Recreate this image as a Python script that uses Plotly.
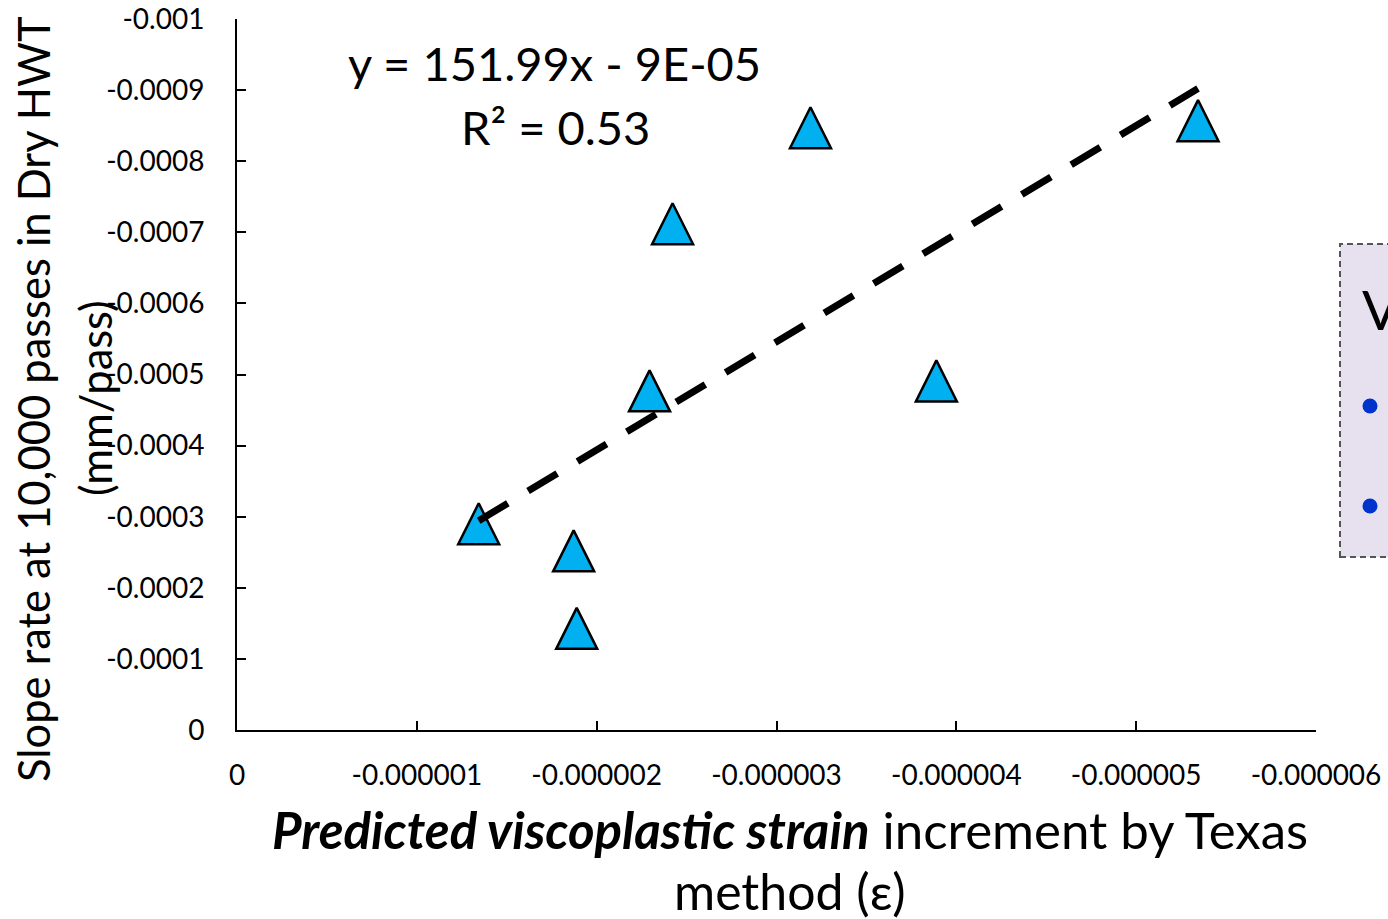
import plotly.graph_objects as go

# ---- data ----
strain_x = [-1.344e-6, -1.872e-6, -1.889e-6, -2.294e-6, -2.422e-6, -3.189e-6, -3.889e-6, -5.344e-6]
slope_y = [-0.000290, -0.000252, -0.000143, -0.000477, -0.000712, -0.000847, -0.000491, -0.000857]

trend_slope = 151.99
trend_intercept = -9e-05

x_tick_vals = [0, -1e-6, -2e-6, -3e-6, -4e-6, -5e-6, -6e-6]
x_tick_labels = ["0", "-0.000001", "-0.000002", "-0.000003", "-0.000004", "-0.000005", "-0.000006"]
y_tick_vals = [0, -0.0001, -0.0002, -0.0003, -0.0004, -0.0005, -0.0006, -0.0007, -0.0008, -0.0009, -0.001]
y_tick_labels = ["0", "-0.0001", "-0.0002", "-0.0003", "-0.0004", "-0.0005", "-0.0006",
                 "-0.0007", "-0.0008", "-0.0009", "-0.001"]

FONT = "Lato"
MARKER_SIZE = 41

trend_x = [max(strain_x), min(strain_x)]
trend_y = [trend_slope * v + trend_intercept for v in trend_x]

fig = go.Figure()
fig.add_trace(go.Scatter(
    x=strain_x, y=slope_y, mode="markers",
    marker=dict(symbol="arrow-down", angle=180, standoff=MARKER_SIZE / 2,
                size=MARKER_SIZE, color="#00B0F0",
                line=dict(color="black", width=2.5)),
    showlegend=False, hoverinfo="x+y"))
fig.add_trace(go.Scatter(
    x=trend_x, y=trend_y, mode="lines",
    line=dict(color="black", width=7, dash="34px,23.6px"),
    showlegend=False, hoverinfo="skip"))

axis_common = dict(showgrid=False, zeroline=False, showline=True, linecolor="black",
                   linewidth=2, ticks="inside", ticklen=9, tickwidth=2, tickcolor="black",
                   automargin=False,
                   tickfont=dict(family=FONT, size=28, color="black"))

fig.update_xaxes(range=[0, -6e-6], tickvals=x_tick_vals, ticktext=x_tick_labels,
                 ticklabelstandoff=19, **axis_common)
fig.update_yaxes(range=[0, -0.001], tickvals=y_tick_vals, ticktext=y_tick_labels,
                 ticklabelstandoff=25, **axis_common)

annotations = [
    dict(text="y = 151.99x - 9E-05", x=(554 - 237) / 1079, y=(730 - 63) / 711,
         font=dict(family=FONT, size=47, color="black")),
    dict(text="R² = 0.53", x=(555 - 237) / 1079, y=(730 - 127) / 711,
         font=dict(family=FONT, size=47, color="black")),
    dict(text="Slope rate at 10,000 passes in Dry HWT", x=(33 - 237) / 1079, y=(730 - 399) / 711,
         textangle=-90, font=dict(family=FONT, size=43.5, color="black")),
    dict(text="(mm/pass)", x=(95 - 237) / 1079, y=(730 - 398) / 711,
         textangle=-90, font=dict(family=FONT, size=43.5, color="black")),
    dict(text="<b><i>Predicted viscoplastic strain</i></b> increment by Texas",
         x=(790 - 237) / 1079, y=(730 - 830) / 711,
         font=dict(family=FONT, size=51, color="black")),
    dict(text="method (ε)", x=(790 - 237) / 1079, y=(730 - 891) / 711,
         font=dict(family=FONT, size=50, color="black")),
    dict(text="V", x=(1360 - 237) / 1079, y=(730 - 309) / 711, xanchor="left",
         font=dict(family=FONT, size=55, color="black")),
]
for a in annotations:
    a.setdefault("xanchor", "center")
    a.update(xref="paper", yref="paper", showarrow=False, yanchor="middle")
    fig.add_annotation(**a)

shapes = [
    dict(type="rect", xref="paper", yref="paper",
         x0=(1340 - 237) / 1079, x1=(1440 - 237) / 1079,
         y0=(730 - 557) / 711, y1=(730 - 244) / 711,
         fillcolor="#E6E0EF", line=dict(color="#555555", width=2, dash="6px,4px"), layer="below"),
]
for cy in (406, 506):
    cx = 1370
    r = 7.5
    shapes.append(dict(type="circle", xref="paper", yref="paper",
                       x0=(cx - r - 237) / 1079, x1=(cx + r - 237) / 1079,
                       y0=(730 - cy - r) / 711, y1=(730 - cy + r) / 711,
                       fillcolor="#0033CC", line=dict(width=0)))
fig.update_layout(shapes=shapes)

fig.update_layout(
    width=1388, height=919,
    margin=dict(l=237, r=72, t=19, b=189, autoexpand=False),
    paper_bgcolor="white", plot_bgcolor="white",
    font=dict(family=FONT, color="black"),
)

fig.write_html("out.html")
